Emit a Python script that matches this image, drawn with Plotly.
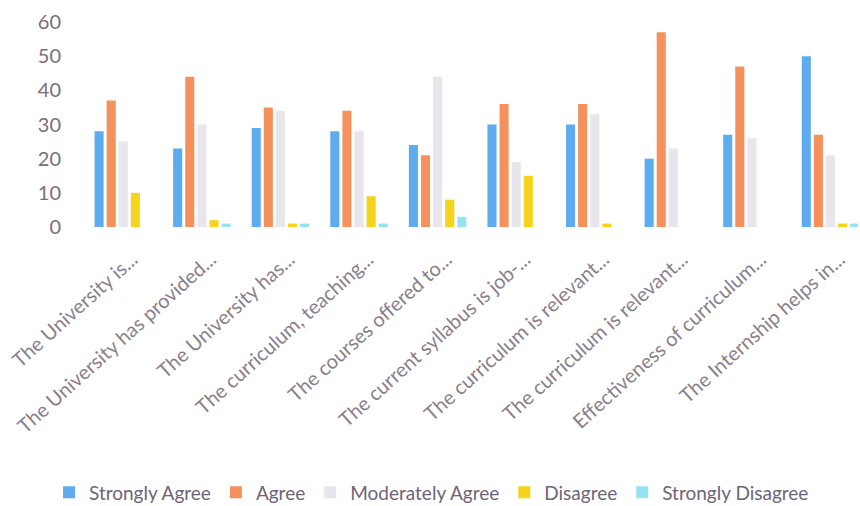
import plotly.graph_objects as go

categories = [
    "The University is...",
    "The University has provided...",
    "The University has...",
    "The curriculum, teaching...",
    "The courses offered to...",
    "The current syllabus is job-...",
    "The curriculum is relevant...",
    "The curriculum is relevant...",
    "Effectiveness of curriculum...",
    "The Internship helps in...",
]
strongly_agree = [28, 23, 29, 28, 24, 30, 30, 20, 27, 50]
agree = [37, 44, 35, 34, 21, 36, 36, 57, 47, 27]
moderately_agree = [25, 30, 34, 28, 44, 19, 33, 23, 26, 21]
disagree = [10, 2, 1, 9, 8, 15, 1, 0, 0, 1]
strongly_disagree = [0, 1, 1, 1, 3, 0, 0, 0, 0, 1]
y_ticks = [0, 10, 20, 30, 40, 50, 60]

series = [
    ("Strongly Agree", strongly_agree, "#5eacf0"),
    ("Agree", agree, "#f4915c"),
    ("Moderately Agree", moderately_agree, "#e9e5ec"),
    ("Disagree", disagree, "#f6d41c"),
    ("Strongly Disagree", strongly_disagree, "#93e4f0"),
]

x_pos = list(range(len(categories)))
fig = go.Figure()
for name, vals, col in series:
    fig.add_trace(go.Bar(name=name, x=x_pos, y=vals, marker_color=col, marker_line_width=0))

fig.update_layout(
    width=860, height=506,
    barmode="group", bargap=0.23, bargroupgap=0.25,
    plot_bgcolor="white", paper_bgcolor="white",
    margin=dict(l=84, r=2, t=22, b=279),
    font=dict(family="Lato, Open Sans, sans-serif", color="#7a6e7a"),
    legend=dict(orientation="h", x=0.057, xanchor="left", xref="container",
                y=0.027, yanchor="middle", yref="container",
                font=dict(size=19, color="#6e6478"), traceorder="normal",
                itemwidth=30),
    showlegend=True,
)
fig.update_xaxes(tickvals=x_pos, ticktext=categories, tickangle=-42,
                 range=[-0.5, 9.35], showgrid=False, showline=False, zeroline=False,
                 tickfont=dict(size=20, color="#8a7e8a"), automargin=False,
                 ticklabelshift=9, ticklabelstandoff=16)
fig.update_yaxes(range=[0, 60], tickvals=y_ticks, showgrid=False, showline=False,
                 zeroline=False, tickfont=dict(size=20, color="#7a6e7a"),
                 ticklabelstandoff=22, automargin=False)

fig.write_html("out.html", config={"displayModeBar": False},
               post_script="document.body.style.margin='0';")
